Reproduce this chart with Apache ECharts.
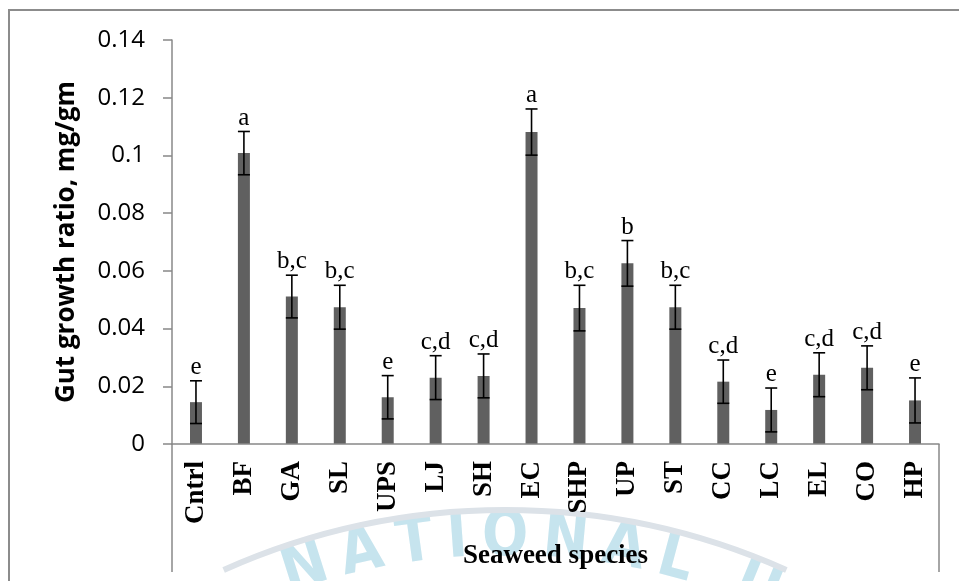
<!DOCTYPE html>
<html>
<head>
<meta charset="utf-8">
<script src="https://cdn.jsdelivr.net/npm/echarts@6/dist/echarts.min.js"></script>
<style>
  html, body { margin: 0; padding: 0; background: #fff; }
  #chart { width: 959px; height: 581px; }
</style>
</head>
<body>
<div id="chart"></div>
<script>
// Seaweed species tested
const categories = ['Cntrl', 'BF', 'GA', 'SL', 'UPS', 'LJ', 'SH', 'EC', 'SHP', 'UP', 'ST', 'CC', 'LC', 'EL', 'CO', 'HP'];
// Mean gut growth ratio (mg/gm)
const means = [0.0145, 0.1008, 0.0511, 0.0474, 0.0162, 0.0230, 0.0236, 0.1081, 0.0471, 0.0626, 0.0474, 0.0216, 0.0118, 0.0240, 0.0264, 0.0151];
// Standard error (±)
const errors = [0.0074, 0.0075, 0.0074, 0.0076, 0.0075, 0.0076, 0.0076, 0.0080, 0.0079, 0.0079, 0.0076, 0.0075, 0.0076, 0.0076, 0.0076, 0.0078];
// Significance groups
const letters = ['e', 'a', 'b,c', 'b,c', 'e', 'c,d', 'c,d', 'a', 'b,c', 'b', 'b,c', 'c,d', 'e', 'c,d', 'c,d', 'e'];
// Value axis ticks
const yMin = 0, yMax = 0.14, yStep = 0.02;

const GRID = { left: 172, right: 20, top: 40, bottom: 137 };
const W = 959, H = 581;
const AXIS_GRAY = '#888888';

// Faint seal stamp behind the lower part of the chart
function sealGraphics() {
  const word = 'NATIONAL U';
  const cx = 505, cy = 1200, rText = 630, rRing = 690;
  const fontSize = 64, squeeze = 0.85, gap = 12;
  const font = 'bold ' + fontSize + 'px "DejaVu Sans"';
  const ctx = document.createElement('canvas').getContext('2d');
  ctx.font = font;
  const widths = word.split('').map(ch => ctx.measureText(ch).width * squeeze);
  // arc offsets of each glyph centre, measured from the "O"
  const centres = [];
  let s = 0;
  widths.forEach((w, k) => {
    if (k > 0) s += (widths[k - 1] + w) / 2 + gap;
    centres.push(s);
  });
  const anchor = centres[word.indexOf('O')];
  const items = [];
  word.split('').forEach((ch, k) => {
    if (ch === ' ') return;
    const theta = (centres[k] - anchor) / rText;
    items.push({
      type: 'text',
      x: cx + rText * Math.sin(theta),
      y: cy - rText * Math.cos(theta),
      rotation: -theta,
      scaleX: squeeze,
      silent: true,
      z: -10,
      style: {
        text: ch, font: font, fill: '#c6e4ee',
        align: 'center', verticalAlign: 'bottom'
      }
    });
  });
  items.push({
    type: 'arc', silent: true, z: -10,
    shape: { cx: cx, cy: cy, r: rRing, startAngle: -Math.PI / 2 - 0.42, endAngle: -Math.PI / 2 + 0.42 },
    style: { stroke: '#dce2e8', lineWidth: 6, fill: null }
  });
  return items;
}

const chart = echarts.init(document.getElementById('chart'), null, { renderer: 'canvas' });

const errData = categories.map((c, i) => [i, means[i] - errors[i], means[i] + errors[i]]);

chart.setOption({
  animation: false,
  backgroundColor: '#ffffff',
  grid: {
    left: GRID.left, right: GRID.right, top: GRID.top, bottom: GRID.bottom,
    containLabel: false, outerBoundsMode: 'none'
  },
  xAxis: {
    type: 'category',
    data: categories,
    name: 'Seaweed species',
    nameLocation: 'middle',
    nameGap: 99,
    nameTextStyle: { fontFamily: 'Liberation Serif', fontWeight: 'bold', fontSize: 27, color: '#000' },
    axisLine: { show: true, lineStyle: { color: AXIS_GRAY, width: 1.5 } },
    axisTick: { show: false },
    axisLabel: {
      rotate: 90, margin: 17, interval: 0,
      fontFamily: 'Liberation Serif', fontWeight: 'bold', fontSize: 27, color: '#000'
    },
    splitLine: { show: false },
    z: 5
  },
  yAxis: {
    type: 'value',
    min: yMin, max: yMax, interval: yStep,
    name: 'Gut growth ratio, mg/gm',
    nameLocation: 'middle',
    nameGap: 92,
    nameRotate: 90,
    nameTextStyle: { fontFamily: 'Open Sans', fontWeight: 'bold', fontSize: 26, color: '#000' },
    axisLine: { show: true, lineStyle: { color: AXIS_GRAY, width: 1.5 } },
    axisTick: { show: true, inside: false, length: 9, lineStyle: { color: AXIS_GRAY, width: 1.5 } },
    axisLabel: {
      margin: 27,
      fontFamily: 'Open Sans', fontSize: 24, color: '#000',
      formatter: v => String(+v.toFixed(2))
    },
    splitLine: { show: false }
  },
  series: [
    {
      type: 'bar',
      data: means,
      barWidth: 12,
      itemStyle: { color: '#606060' },
      z: 2
    },
    {
      type: 'custom',
      data: errData,
      z: 3,
      renderItem: function (params, api) {
        const i = api.value(0);
        const lo = api.coord([i, api.value(1)]);
        const hi = api.coord([i, api.value(2)]);
        const half = 6;
        const style = { stroke: '#000', lineWidth: 1.6 };
        return {
          type: 'group',
          children: [
            { type: 'line', shape: { x1: hi[0], y1: hi[1], x2: lo[0], y2: lo[1] }, style },
            { type: 'line', shape: { x1: hi[0] - half, y1: hi[1], x2: hi[0] + half, y2: hi[1] }, style },
            { type: 'line', shape: { x1: lo[0] - half, y1: lo[1], x2: lo[0] + half, y2: lo[1] }, style },
            {
              type: 'text',
              style: {
                x: hi[0], y: hi[1] - 1,
                text: letters[params.dataIndex],
                align: 'center', verticalAlign: 'bottom',
                fontFamily: 'Liberation Serif', fontSize: 25, fill: '#000'
              }
            }
          ]
        };
      }
    }
  ],
  graphic: sealGraphics().concat([
    // outer frame (top and left edges)
    { type: 'polyline', shape: { points: [[9, H], [9, 10], [W, 10]] }, style: { stroke: '#8c8c8c', lineWidth: 2, fill: null }, silent: true },
    // category box sides under the axis
    { type: 'line', shape: { x1: GRID.left, y1: H - GRID.bottom, x2: GRID.left, y2: 572 }, style: { stroke: AXIS_GRAY, lineWidth: 1.5 }, silent: true },
    { type: 'line', shape: { x1: W - GRID.right, y1: H - GRID.bottom, x2: W - GRID.right, y2: 572 }, style: { stroke: AXIS_GRAY, lineWidth: 1.5 }, silent: true }
  ])
});
</script>
</body>
</html>
